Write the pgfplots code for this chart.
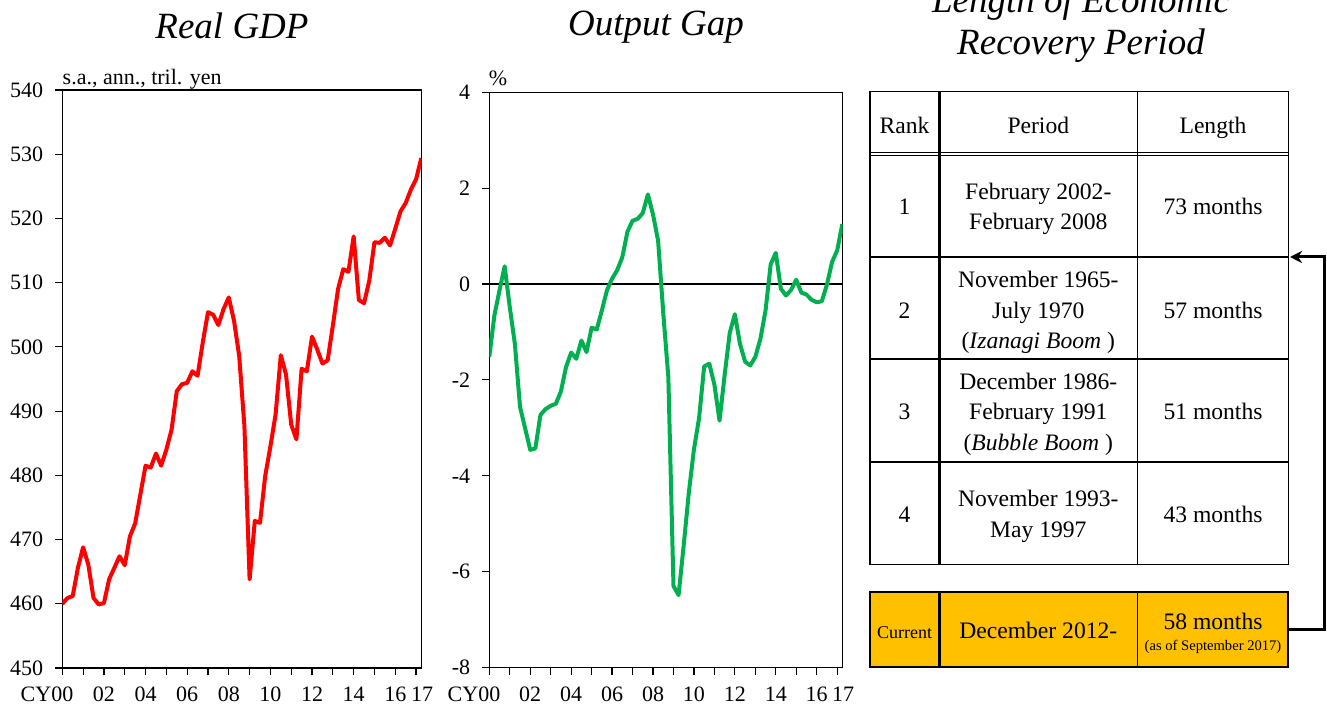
\documentclass[border=0pt]{standalone}
\usepackage{fontspec}
\setmainfont{Liberation Serif}
\usepackage{pgfplots}
\usepackage{pgfplotstable}
\pgfplotsset{compat=1.18}
\usetikzlibrary{arrows.meta}

\definecolor{gdpred}{RGB}{255,0,0}
\definecolor{gapgreen}{RGB}{0,176,80}
\definecolor{curfill}{RGB}{255,192,0}

% real GDP, s.a., ann., tril. yen (quarterly)
\pgfplotstableread{
t v
2000.00 460.0
2000.25 460.9
2000.50 461.2
2000.75 465.6
2001.00 468.8
2001.25 466.1
2001.50 460.9
2001.75 459.9
2002.00 460.1
2002.25 463.8
2002.50 465.6
2002.75 467.4
2003.00 466.0
2003.25 470.5
2003.50 472.5
2003.75 477.0
2004.00 481.5
2004.25 481.2
2004.50 483.4
2004.75 481.5
2005.00 484.0
2005.25 487.1
2005.50 493.1
2005.75 494.2
2006.00 494.4
2006.25 496.2
2006.50 495.5
2006.75 500.7
2007.00 505.4
2007.25 505.0
2007.50 503.4
2007.75 505.9
2008.00 507.7
2008.25 504.1
2008.50 498.6
2008.75 487.7
2009.00 463.8
2009.25 472.9
2009.50 472.6
2009.75 479.9
2010.00 484.5
2010.25 489.5
2010.50 498.7
2010.75 495.7
2011.00 487.9
2011.25 485.6
2011.50 496.6
2011.75 496.2
2012.00 501.6
2012.25 499.6
2012.50 497.4
2012.75 497.9
2013.00 503.3
2013.25 509.0
2013.50 512.1
2013.75 511.7
2014.00 517.2
2014.25 507.3
2014.50 506.8
2014.75 510.3
2015.00 516.3
2015.25 516.2
2015.50 517.0
2015.75 515.8
2016.00 518.4
2016.25 521.1
2016.50 522.4
2016.75 524.5
2017.00 526.1
2017.25 529.4
}\gdpdata

% output gap, %
\pgfplotstableread{
t v
2000.00 -1.52
2000.25 -0.65
2000.50 -0.13
2000.75 0.37
2001.00 -0.48
2001.25 -1.25
2001.50 -2.56
2001.75 -3.01
2002.00 -3.46
2002.25 -3.43
2002.50 -2.73
2002.75 -2.61
2003.00 -2.54
2003.25 -2.50
2003.50 -2.24
2003.75 -1.73
2004.00 -1.43
2004.25 -1.56
2004.50 -1.18
2004.75 -1.42
2005.00 -0.91
2005.25 -0.95
2005.50 -0.55
2005.75 -0.13
2006.00 0.11
2006.25 0.29
2006.50 0.56
2006.75 1.09
2007.00 1.32
2007.25 1.36
2007.50 1.48
2007.75 1.87
2008.00 1.45
2008.25 0.90
2008.50 -0.60
2008.75 -1.95
2009.00 -6.30
2009.25 -6.49
2009.50 -5.45
2009.75 -4.35
2010.00 -3.45
2010.25 -2.80
2010.50 -1.72
2010.75 -1.66
2011.00 -2.10
2011.25 -2.85
2011.50 -1.90
2011.75 -1.02
2012.00 -0.63
2012.25 -1.25
2012.50 -1.62
2012.75 -1.70
2013.00 -1.52
2013.25 -1.14
2013.50 -0.55
2013.75 0.41
2014.00 0.65
2014.25 -0.10
2014.50 -0.24
2014.75 -0.12
2015.00 0.09
2015.25 -0.18
2015.50 -0.22
2015.75 -0.33
2016.00 -0.38
2016.25 -0.36
2016.50 -0.01
2016.75 0.46
2017.00 0.70
2017.25 1.25
}\gapdata

\newcommand{\tickfont}{\fontsize{11}{13}\selectfont}
\newcommand{\titlefont}{\fontsize{18.5}{22}\selectfont\itshape}
\newcommand{\tabfont}{\fontsize{11.8}{15}\selectfont}

\pgfplotsset{
  panel/.style={
    scale only axis,
    clip mode=individual,
    axis line style={line width=0.7pt},
    tick style={black, line width=0.6pt},
    tick align=outside,
    major tick length=3.5pt,
    xtick pos=bottom, ytick pos=left,
    ticklabel style={font=\tickfont},
    xticklabel style={yshift=-2.5pt},
    yticklabel style={xshift=-2.5pt},
    xtick={2000,2001,...,2017},
    xticklabels={{\llap{CY}00},{},02,{},04,{},06,{},08,{},10,{},12,{},14,{},16,{\hspace{6pt}17}},
    xmin=2000, xmax=2017.27,
  },
}

\begin{document}
\begin{tikzpicture}
\useasboundingbox (0,0) rectangle (663.5pt,-352pt);

% Real GDP
\begin{axis}[panel,
  at={(31.15pt,-334pt)}, anchor=south west,
  width=179.7pt, height=289pt,
  ymin=450, ymax=540,
  ytick={450,460,...,540},
  yticklabels={450,460,470,480,490,500,510,520,530,540},
]
\addplot[gdpred, line width=2pt, line join=round] table[x=t,y=v] {\gdpdata};
\node[anchor=base west, inner sep=0pt, font=\tickfont] at (rel axis cs:0,1.01) {s.a., ann., tril. yen};
\end{axis}

% Output gap
\begin{axis}[panel,
  at={(244.65pt,-333.75pt)}, anchor=south west,
  width=176.7pt, height=287.6pt,
  ymin=-8, ymax=4,
  ytick={-8,-6,...,4},
  yticklabels={-8,-6,-4,-2,0,2,4},
]
\draw[black, line width=0.6pt] (axis cs:2000,0) -- (axis cs:2017.27,0);
\addplot[gapgreen, line width=2pt, line join=round] table[x=t,y=v] {\gapdata};
\node[anchor=base west, inner sep=0pt, font=\tickfont] at (rel axis cs:-0.002,1.012) {\%};
\end{axis}

\begin{scope}[x=0.5pt,y=-0.5pt]
% titles
\node[anchor=base, font=\titlefont] at (232,39) {Real GDP};
\node[anchor=base, font=\titlefont] at (656,36) {Output Gap};
\node[anchor=base, font=\titlefont] at (1081,13) {Length of Economic};
\node[anchor=base, font=\titlefont] at (1081,55) {Recovery Period};

% table grid
\draw[line width=0.7pt] (870,91.7) rectangle (1288.3,564.3);
\draw[line width=1.5pt] (939,91.7) -- (939,564.3);
\draw[line width=0.7pt] (1137.7,91.7) -- (1137.7,564.3);
\draw[line width=0.5pt] (870,152.6) -- (1288.3,152.6) (870,155.4) -- (1288.3,155.4);
\draw[line width=0.7pt] (870,257) -- (1288.3,257) (870,359) -- (1288.3,359) (870,462) -- (1288.3,462);

% current row
\draw[line width=1pt, fill=curfill] (870,592.3) rectangle (1288.3,666.7);
\draw[line width=1.5pt] (939,592.3) -- (939,666.7);
\draw[line width=0.7pt] (1137.7,592.3) -- (1137.7,666.7);

% arrow
\draw[line width=1.5pt, -{Stealth[length=6pt,width=6pt]}] (1288.3,629.3) -- (1324.5,629.3) -- (1324.5,257) -- (1290,257);

% table text
\begin{scope}[every node/.style={anchor=base, inner sep=0pt, font=\tabfont}]
\node at (904.5,133.3) {Rank};
\node at (1038.3,133.3) {Period};
\node at (1213,133.3) {Length};

\node at (904.5,215) {1};
\node at (1038.3,199.3) {February 2002-};
\node at (1038.3,230) {February 2008};
\node at (1213,215) {73 months};

\node at (904.5,318.3) {2};
\node at (1038.3,287.3) {November 1965-};
\node at (1038.3,318.3) {July 1970};
\node at (1038.3,348.3) {(\textit{Izanagi Boom} )};
\node at (1213,318.3) {57 months};

\node at (904.5,420) {3};
\node at (1038.3,389.3) {December 1986-};
\node at (1038.3,420) {February 1991};
\node at (1038.3,451) {(\textit{Bubble Boom} )};
\node at (1213,420) {51 months};

\node at (904.5,522.7) {4};
\node at (1038.3,506.7) {November 1993-};
\node at (1038.3,537.7) {May 1997};
\node at (1213,522.7) {43 months};

\node[font=\fontsize{9}{11}\selectfont] at (904.5,638.3) {Current};
\node at (1038.3,638.3) {December 2012-};
\node at (1213,630) {58 months};
\node[font=\fontsize{7.3}{9}\selectfont] at (1213,651) {(as of September 2017)};
\end{scope}
\end{scope}
\end{tikzpicture}
\end{document}
